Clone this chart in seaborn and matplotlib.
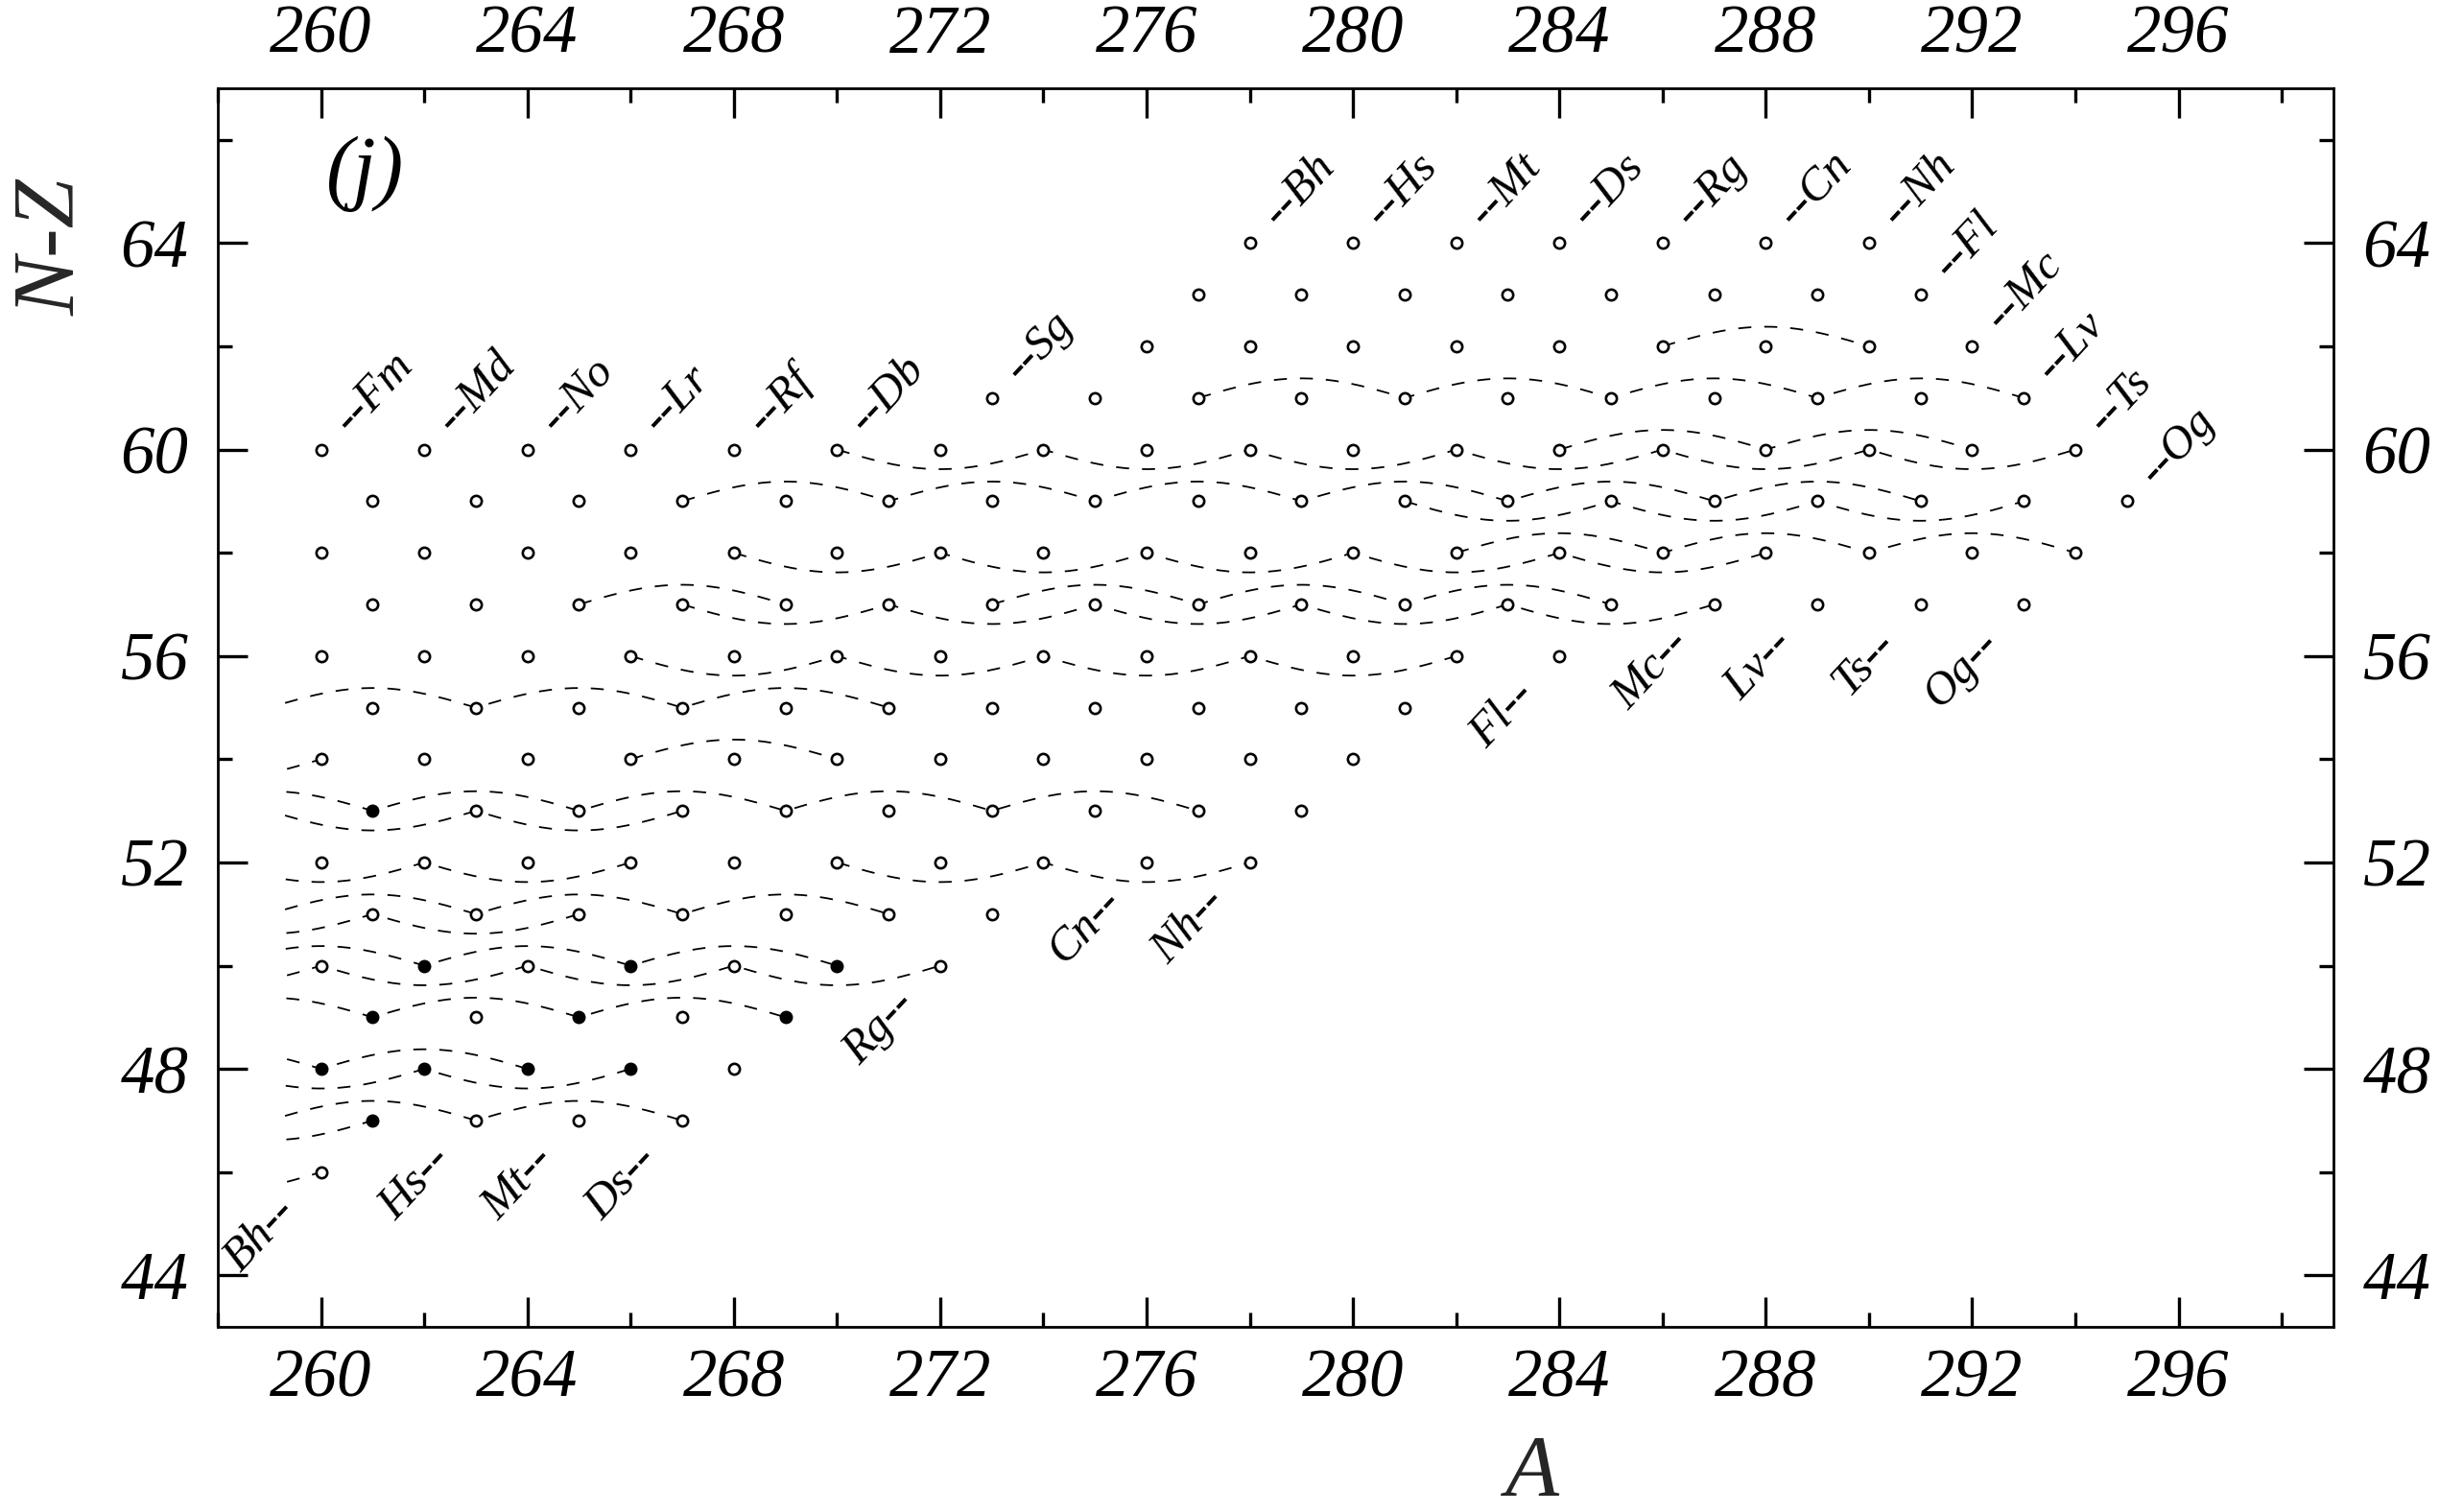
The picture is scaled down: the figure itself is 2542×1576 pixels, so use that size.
import numpy as np
import pandas as pd
import seaborn as sns
import matplotlib.pyplot as plt
from matplotlib.ticker import MultipleLocator

# nuclides: N-Z values present at each mass number A
A_values = [260, 261, 262, 263, 264, 265, 266, 267, 268, 269, 270, 271,
            272, 273, 274, 275, 276, 277, 278, 279, 280, 281, 282, 283,
            284, 285, 286, 287, 288, 289, 290, 291, 292, 293, 294, 295]
NZ_values = [
    [60, 58, 56, 54, 52, 50, 48, 46],  # 260
    [59, 57, 55, 53, 51, 49, 47],      # 261
    [60, 58, 56, 54, 52, 50, 48],      # 262
    [59, 57, 55, 53, 51, 49, 47],      # 263
    [60, 58, 56, 54, 52, 50, 48],      # 264
    [59, 57, 55, 53, 51, 49, 47],      # 265
    [60, 58, 56, 54, 52, 50, 48],      # 266
    [59, 57, 55, 53, 51, 49, 47],      # 267
    [60, 58, 56, 54, 52, 50, 48],      # 268
    [59, 57, 55, 53, 51, 49],          # 269
    [60, 58, 56, 54, 52, 50],          # 270
    [59, 57, 55, 53, 51],              # 271
    [60, 58, 56, 54, 52, 50],          # 272
    [61, 59, 57, 55, 53, 51],          # 273
    [60, 58, 56, 54, 52],              # 274
    [61, 59, 57, 55, 53],              # 275
    [62, 60, 58, 56, 54, 52],          # 276
    [63, 61, 59, 57, 55, 53],          # 277
    [64, 62, 60, 58, 56, 54, 52],      # 278
    [63, 61, 59, 57, 55, 53],          # 279
    [64, 62, 60, 58, 56, 54],          # 280
    [63, 61, 59, 57, 55],              # 281
    [64, 62, 60, 58, 56],              # 282
    [63, 61, 59, 57],                  # 283
    [64, 62, 60, 58, 56],              # 284
    [63, 61, 59, 57],                  # 285
    [64, 62, 60, 58],                  # 286
    [63, 61, 59, 57],                  # 287
    [64, 62, 60, 58],                  # 288
    [63, 61, 59, 57],                  # 289
    [64, 62, 60, 58],                  # 290
    [63, 61, 59, 57],                  # 291
    [62, 60, 58],                      # 292
    [61, 59, 57],                      # 293
    [60, 58],                          # 294
    [59],                              # 295
]

# filled (black) symbols
filled_A = [260, 261, 261, 261, 262, 262, 264, 265, 266, 266, 269, 270]
filled_NZ = [48, 53, 49, 47, 50, 48, 48, 49, 50, 48, 49, 50]

# alpha-decay chains: constant N-Z, A in steps of 4; bow +1 = arcs up, -1 = arcs down
chain_NZ = [46, 47, 47, 48, 48, 49, 50, 50, 51, 51, 52, 52, 53, 53, 54,
            54, 55, 56, 57, 57, 57, 58, 58, 59, 59, 60, 60, 61, 62]
chain_A = [
    [256, 260],
    [259, 263, 267],
    [257, 261],
    [256, 260, 264],
    [258, 262, 266],
    [257, 261, 265, 269],
    [258, 262, 266, 270],
    [256, 260, 264, 268, 272],
    [259, 263, 267, 271],
    [257, 261, 265],
    [258, 262, 266],
    [270, 274, 278],
    [257, 261, 265, 269, 273, 277],
    [259, 263, 267],
    [256, 260],
    [266, 270],
    [259, 263, 267, 271],
    [266, 270, 274, 278, 282],
    [265, 269],
    [273, 277, 281, 285],
    [267, 271, 275, 279, 283, 287],
    [268, 272, 276, 280, 284, 288],
    [282, 286, 290, 294],
    [267, 271, 275, 279, 283, 287, 291],
    [281, 285, 289, 293],
    [270, 274, 278, 282, 286, 290, 294],
    [284, 288, 292],
    [277, 281, 285, 289, 293],
    [286, 290],
]
chain_bow = [-1, 1, -1, 1, -1, 1, 1, -1, 1, -1, -1, -1, 1, -1, -1,
             1, 1, -1, 1, 1, -1, -1, 1, 1, -1, -1, 1, 1, 1]

# element names at the upper (neutron-rich) end of each isotope line
top_names = ['Fm', 'Md', 'No', 'Lr', 'Rf', 'Db', 'Sg', 'Bh', 'Hs', 'Mt',
             'Ds', 'Rg', 'Cn', 'Nh', 'Fl', 'Mc', 'Lv', 'Ts', 'Og']
top_A = [260, 262, 264, 266, 268, 270, 273, 278, 280, 282,
         284, 286, 288, 290, 291, 292, 293, 294, 295]
top_NZ = [60, 60, 60, 60, 60, 60, 61, 64, 64, 64,
          64, 64, 64, 64, 63, 62, 61, 60, 59]
# element names at the lower (neutron-poor) end
bottom_names = ['Bh', 'Hs', 'Mt', 'Ds', 'Rg', 'Cn', 'Nh', 'Fl', 'Mc', 'Lv', 'Ts', 'Og']
bottom_A = [260, 263, 265, 267, 272, 276, 278, 284, 287, 289, 291, 293]
bottom_NZ = [46, 47, 47, 47, 50, 52, 52, 56, 57, 57, 57, 57]

rows = []
for a, nzs in zip(A_values, NZ_values):
    for nz in nzs:
        rows.append((a, nz))
df = pd.DataFrame(rows, columns=['A', 'NZ'])
filled = set(zip(filled_A, filled_NZ))
df['filled'] = [(a, nz) in filled for a, nz in zip(df['A'], df['NZ'])]

sns.set_style('ticks')
plt.rcParams['font.family'] = ['Liberation Serif', 'DejaVu Serif']
plt.rcParams['font.style'] = 'italic'
plt.rcParams['text.color'] = 'black'
plt.rcParams['axes.edgecolor'] = 'black'
plt.rcParams['xtick.color'] = 'black'
plt.rcParams['ytick.color'] = 'black'

fig = plt.figure(figsize=(25.42, 15.76), dpi=100)
ax = fig.add_axes([0.0893, 0.1224, 0.8674, 0.8192])

# dashed arcs along the decay chains
for nz, chain, bow in zip(chain_NZ, chain_A, chain_bow):
    xs, ys = [], []
    for a0, a1 in zip(chain[:-1], chain[1:]):
        t = np.linspace(0, 1, 80)
        xs.append(a0 + (a1 - a0) * t)
        ys.append(nz + bow * 0.38 * np.sin(np.pi * t))
    x = np.concatenate(xs)
    y = np.concatenate(ys)
    keep = x >= 259.3
    ax.plot(x[keep], y[keep], color='black', lw=1.3, ls=(0, (7.5, 7.5)), zorder=1)

sns.scatterplot(data=df[~df['filled']], x='A', y='NZ', ax=ax, marker='o', s=66,
                color='white', edgecolor='black', linewidth=1.9, zorder=3, legend=False)
sns.scatterplot(data=df[df['filled']], x='A', y='NZ', ax=ax, marker='o', s=66,
                color='black', edgecolor='black', linewidth=1.9, zorder=3, legend=False)

for name, a, nz in zip(top_names, top_A, top_NZ):
    ax.text(a + 0.40, nz + 0.44, '--' + name, fontsize=35, rotation=47,
            rotation_mode='anchor', ha='left', va='center')
for name, a, nz in zip(bottom_names, bottom_A, bottom_NZ):
    ax.text(a - 0.62, nz - 0.62, name + '--', fontsize=35, rotation=47,
            rotation_mode='anchor', ha='right', va='center')

ax.text(260.85, 65.35, '(j)', fontsize=62, ha='center', va='center')

ax.set_xlim(258, 299)
ax.set_ylim(43, 67)
ax.set_xticks(np.arange(260, 297, 4))
ax.set_yticks(np.arange(44, 65, 4))
ax.xaxis.set_minor_locator(MultipleLocator(2))
ax.yaxis.set_minor_locator(MultipleLocator(2))
ax.tick_params(which='both', direction='in', top=True, right=True,
               labeltop=True, labelright=True, width=2.4, labelsize=51)
ax.tick_params(which='major', length=22)
ax.tick_params(which='minor', length=11)
ax.tick_params(axis='x', which='major', pad=16)
ax.tick_params(axis='y', which='major', pad=22)
for sp in ax.spines.values():
    sp.set_linewidth(2.0)
    sp.set_visible(True)

ax.set_xlabel('A', fontsize=66, va='center')
ax.xaxis.set_label_coords(0.621, -0.119)
ax.set_ylabel('N-Z', fontsize=66, va='center', ha='center')
ax.yaxis.set_label_coords(-0.078, 0.872)

fig.savefig('out.png', dpi=100)
